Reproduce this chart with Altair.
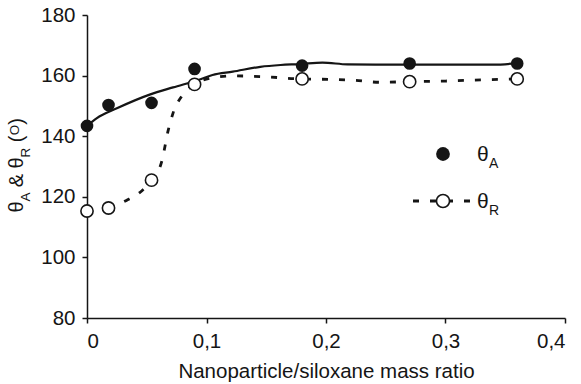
import altair as alt
import pandas as pd

FONT = "Liberation Sans"
INK = "#151515"

# measured points
ratio = [0, 0.018, 0.054, 0.09, 0.18, 0.27, 0.36]
theta_a = [143.4, 150.3, 151.0, 162.2, 163.3, 164.0, 164.0]
theta_r = [115.3, 116.3, 125.5, 157.1, 158.9, 158.0, 158.9]

# fitted curves
fit_a_x = [0, 0.008, 0.025, 0.053, 0.072, 0.095, 0.105, 0.122, 0.145, 0.162,
           0.178, 0.197, 0.218, 0.25, 0.3, 0.34, 0.36]
fit_a_y = [143.4, 145.9, 149.2, 153.8, 156.1, 158.8, 160.2, 161.3, 162.9, 163.5,
           163.8, 164.3, 163.7, 163.6, 163.6, 163.6, 164.1]
fit_r_x = [0.018, 0.033, 0.046, 0.054, 0.0625, 0.068, 0.072, 0.08, 0.09, 0.105,
           0.122, 0.15, 0.178, 0.197, 0.225, 0.245, 0.27, 0.3, 0.33, 0.36]
fit_r_y = [116.3, 118.8, 122.0, 125.5, 131.6, 142.0, 147.6, 153.6, 157.1, 159.3,
           159.9, 159.6, 158.9, 158.8, 158.4, 157.8, 158.0, 158.2, 158.6, 158.9]

x_ticks = [0, 0.1, 0.2, 0.3, 0.4]
y_ticks = [80, 100, 120, 140, 160, 180]

pts = pd.DataFrame({"ratio": ratio, "a": theta_a, "r": theta_r})
fa = pd.DataFrame({"ratio": fit_a_x, "v": fit_a_y})
fr = pd.DataFrame({"ratio": fit_r_x, "v": fit_r_y})
one = pd.DataFrame({"k": [0]})

xs = alt.Scale(domain=[0, 0.4], nice=False, zero=False)
ys = alt.Scale(domain=[80, 180], nice=False, zero=False)

LS = 20.5

x_axis = alt.Axis(
    values=x_ticks,
    labelExpr="replace(format(datum.value, '.1~f'), '.', ',')",
    title="Nanoparticle/siloxane mass ratio",
    grid=False, domainColor=INK, domainWidth=1.5, tickColor=INK, tickWidth=1.5,
    tickSize=5, labelFont=FONT, labelFontSize=LS, labelColor=INK, labelPadding=8,
    titleFont=FONT, titleFontSize=20.5, titleFontWeight="normal", titleColor=INK,
    titlePadding=10,
)
y_axis = alt.Axis(
    values=y_ticks, title="",
    grid=False, domainColor=INK, domainWidth=1.5, tickColor=INK, tickWidth=1.5,
    tickSize=5, labelFont=FONT, labelFontSize=LS, labelColor=INK, labelPadding=7,
)


def X():
    return alt.X("ratio:Q", scale=xs, axis=x_axis)


def Y(field):
    return alt.Y(f"{field}:Q", scale=ys, axis=y_axis)


line_a = alt.Chart(fa).mark_line(interpolate="monotone", color=INK, strokeWidth=2.2).encode(
    x=X(), y=Y("v"))
line_r = alt.Chart(fr).mark_line(interpolate="monotone", color=INK, strokeWidth=2.8,
                                 strokeDash=[6, 11]).encode(x=X(), y=Y("v"))
pt_a = alt.Chart(pts).mark_point(shape="circle", filled=True, color=INK, opacity=1,
                                 size=160).encode(x=X(), y=Y("a"))
pt_r = alt.Chart(pts).mark_point(shape="circle", filled=True, fill="white", stroke=INK,
                                 strokeWidth=1.6, opacity=1, size=150).encode(x=X(), y=Y("r"))


def txt(s, x, y, size, angle=0, align="left"):
    return alt.Chart(one).mark_text(
        text=s, font=FONT, fontSize=size, color=INK, align=align,
        baseline="middle", angle=angle,
    ).encode(x=alt.value(x), y=alt.value(y))


# legend (pixel positions relative to the plot area)
leg = [
    alt.Chart(one).mark_point(shape="circle", filled=True, color=INK, opacity=1,
                              size=190).encode(x=alt.value(356), y=alt.value(139)),
    alt.Chart(one).mark_rule(color=INK, strokeWidth=2.8, strokeDash=[6, 11]).encode(
        x=alt.value(326), x2=alt.value(384), y=alt.value(186)),
    alt.Chart(one).mark_point(shape="circle", filled=True, fill="white", stroke=INK,
                              strokeWidth=1.6, opacity=1, size=170).encode(
        x=alt.value(356), y=alt.value(186)),
    txt("θ", 390, 140, 21), txt("A", 402, 149, 14),
    txt("θ", 390, 187, 21), txt("R", 402, 196, 14),
]

# y-axis title, rotated, built from pieces
ytitle = [
    txt("θ", -70, 192, 20, 270, "center"),
    txt("A", -61, 182, 13.5, 270, "center"),
    txt("&", -70, 165.5, 20, 270, "center"),
    txt("θ", -70, 148, 20, 270, "center"),
    txt("R", -61, 137.5, 13.5, 270, "center"),
    txt("(", -70, 124, 20, 270, "center"),
    txt("O", -72, 115, 13.5, 270, "center"),
    txt(")", -70, 106.5, 20, 270, "center"),
]

chart = alt.layer(line_a, line_r, pt_a, pt_r, *leg, *ytitle).properties(
    width=478, height=303,
    autosize=alt.AutoSizeParams(type="none"),
    padding={"left": 87, "top": 15, "right": 16, "bottom": 66},
    background="white",
).configure_view(stroke=None)

chart.save("out.html", embed_options={"renderer": "svg", "actions": False})
